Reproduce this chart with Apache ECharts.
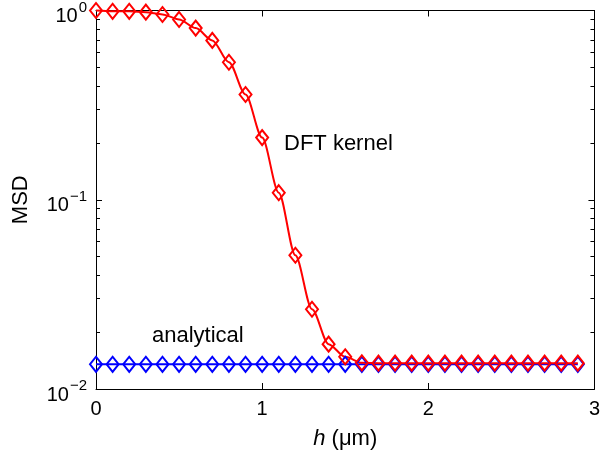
<!DOCTYPE html>
<html>
<head>
<meta charset="utf-8">
<script src="https://cdn.jsdelivr.net/npm/echarts@6/dist/echarts.min.js"></script>
<style>
  html, body { margin: 0; padding: 0; background: #fff; }
  #chart { width: 603px; height: 457px; }
</style>
</head>
<body>
<div id="chart"></div>
<script>
// h values (μm)
const hValues = [0, 0.1, 0.2, 0.3, 0.4, 0.5, 0.6, 0.7, 0.8, 0.9,
  1.0, 1.1, 1.2, 1.3, 1.4, 1.5, 1.6, 1.7, 1.8, 1.9,
  2.0, 2.1, 2.2, 2.3, 2.4, 2.5, 2.6, 2.7, 2.8, 2.9];
// MSD, DFT kernel
const dftKernel = [1.0, 0.99, 0.99, 0.98, 0.953, 0.897, 0.807, 0.695, 0.533, 0.36,
  0.213, 0.109, 0.0509, 0.0264, 0.01726, 0.01479, 0.01375, 0.0137, 0.0137, 0.0137,
  0.0137, 0.0137, 0.0137, 0.0137, 0.0137, 0.0137, 0.0137, 0.0137, 0.0137, 0.0137];
// MSD, analytical
const analytical = [0.0135, 0.0135, 0.0135, 0.0135, 0.0135, 0.0135, 0.0135, 0.0135, 0.0135, 0.0135,
  0.0135, 0.0135, 0.0135, 0.0135, 0.0135, 0.0135, 0.0135, 0.0135, 0.0135, 0.0135,
  0.0135, 0.0135, 0.0135, 0.0135, 0.0135, 0.0135, 0.0135, 0.0135, 0.0135, 0.0135];
const yMajorTicks = [0.01, 0.1, 1];
const yMinorTicks = [0.02, 0.03, 0.04, 0.05, 0.06, 0.07, 0.08, 0.09,
  0.2, 0.3, 0.4, 0.5, 0.6, 0.7, 0.8, 0.9];
const xTicks = [0, 1, 2, 3];

const font = "'Liberation Sans', Arial, Helvetica, sans-serif";
const pair = (xs, ys) => xs.map((x, i) => [x, ys[i]]);

const chart = echarts.init(document.getElementById("chart"));

const xAxisBase = {
  type: "value",
  min: 0,
  max: 3,
  interval: 1,
  splitLine: { show: false },
  axisLine: { show: true, lineStyle: { color: "#000", width: 1 } },
  axisTick: { show: true, inside: true, length: 6, lineStyle: { color: "#000" } }
};

const yAxisBase = {
  type: "log",
  logBase: 10,
  min: 0.01,
  max: 1,
  splitLine: { show: false },
  axisLine: { show: true, lineStyle: { color: "#000", width: 1 } }
};

const option = {
  animation: false,
  backgroundColor: "#fff",
  textStyle: { fontFamily: font },
  grid: { left: 96, right: 5, top: 10, bottom: 68 },
  xAxis: [
    Object.assign({}, xAxisBase, {
      position: "bottom",
      name: "{i|h} (μm)",
      nameLocation: "middle",
      nameGap: 39,
      nameTextStyle: {
        color: "#000", fontSize: 22, fontFamily: font,
        rich: { i: { fontStyle: "italic", fontSize: 22, fontFamily: font, color: "#000" } }
      },
      axisLabel: {
        show: true, color: "#000", fontSize: 20, fontFamily: font, margin: 10,
        customValues: xTicks
      }
    }),
    Object.assign({}, xAxisBase, {
      position: "top",
      axisLabel: { show: false }
    })
  ],
  yAxis: [
    Object.assign({}, yAxisBase, {
      position: "left",
      name: "MSD",
      nameLocation: "middle",
      nameGap: 64,
      nameTextStyle: { color: "#000", fontSize: 22, fontFamily: font },
      axisTick: {
        show: true, inside: true, length: 6, customValues: yMajorTicks,
        lineStyle: { color: "#000" }
      },
      axisLabel: {
        show: true,
        margin: 9,
        customValues: yMajorTicks,
        formatter: function (v) {
          const e = Math.round(Math.log10(v));
          return "{b|10}{s|" + (e < 0 ? "\u2212" + (-e) : e) + "}";
        },
        rich: {
          b: { fontSize: 20, fontFamily: font, color: "#000", padding: [12, 0, 0, 0] },
          s: { fontSize: 15, fontFamily: font, color: "#000", padding: [0, 0, 6, 1] }
        }
      }
    }),
    Object.assign({}, yAxisBase, {
      position: "left",
      axisLine: { show: false },
      axisLabel: { show: false },
      axisTick: {
        show: true, inside: true, length: 4, customValues: yMinorTicks,
        lineStyle: { color: "#000" }
      }
    }),
    Object.assign({}, yAxisBase, {
      position: "right",
      axisLabel: { show: false },
      axisTick: {
        show: true, inside: true, length: 6, customValues: yMajorTicks,
        lineStyle: { color: "#000" }
      }
    }),
    Object.assign({}, yAxisBase, {
      position: "right",
      axisLine: { show: false },
      axisLabel: { show: false },
      axisTick: {
        show: true, inside: true, length: 4, customValues: yMinorTicks,
        lineStyle: { color: "#000" }
      }
    })
  ],
  graphic: [
    {
      type: "text", x: 284, y: 144,
      style: { text: "DFT kernel", fontSize: 22, fontFamily: font, fill: "#000", verticalAlign: "middle" }
    },
    {
      type: "text", x: 152, y: 336,
      style: { text: "analytical", fontSize: 22, fontFamily: font, fill: "#000", verticalAlign: "middle" }
    }
  ],
  series: [
    {
      name: "analytical",
      type: "line",
      data: pair(hValues, analytical),
      symbol: "diamond",
      symbolSize: [12, 15],
      showAllSymbol: true,
      clip: false,
      lineStyle: { color: "#0000ff", width: 2 },
      itemStyle: { color: "rgba(0,0,0,0)", borderColor: "#0000ff", borderWidth: 2 }
    },
    {
      name: "DFT kernel",
      type: "line",
      data: pair(hValues, dftKernel),
      symbol: "diamond",
      symbolSize: [12, 15],
      showAllSymbol: true,
      clip: false,
      smooth: 0.3,
      smoothMonotone: "x",
      lineStyle: { color: "#ff0000", width: 2 },
      itemStyle: { color: "rgba(0,0,0,0)", borderColor: "#ff0000", borderWidth: 2 }
    }
  ]
};

chart.setOption(option);
</script>
</body>
</html>
